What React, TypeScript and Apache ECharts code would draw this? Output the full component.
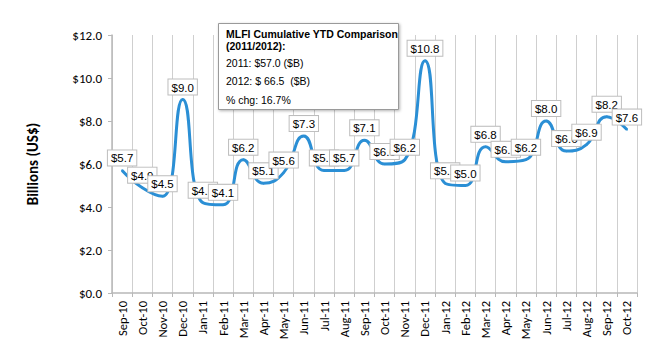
import React, { useEffect, useRef } from "react";
import * as echarts from "echarts";

const categories = [
  "Sep-10", "Oct-10", "Nov-10", "Dec-10", "Jan-11", "Feb-11", "Mar-11", "Apr-11", "May-11",
  "Jun-11", "Jul-11", "Aug-11", "Sep-11", "Oct-11", "Nov-11", "Dec-11", "Jan-12", "Feb-12",
  "Mar-12", "Apr-12", "May-12", "Jun-12", "Jul-12", "Aug-12", "Sep-12", "Oct-12",
];
const values = [
  5.7, 4.9, 4.5, 9.0, 4.2, 4.1, 6.2, 5.1, 5.6, 7.3, 5.7, 5.7, 7.1, 6.0, 6.2, 10.8, 5.1, 5.0,
  6.8, 6.1, 6.2, 8.0, 6.6, 6.9, 8.2, 7.6,
];
const infoTitle = ["MLFI Cumulative YTD Comparison", "(2011/2012):"];
const infoLines = ["2011: $57.0 ($B)", "2012: $ 66.5  ($B)", "% chg: 16.7%"];

export default function App() {
  const ref = useRef<HTMLDivElement>(null);
  useEffect(() => {
    if (!ref.current) return;
    const chart = echarts.init(ref.current, null, { renderer: "svg" });
    const axisFont = "Calibri, Carlito, 'Liberation Sans', Arial, sans-serif";
    chart.setOption({
      animation: false,
      backgroundColor: "#ffffff",
      grid: { left: 112, right: 13, top: 35, bottom: 57 },
      xAxis: {
        type: "category",
        data: categories,
        boundaryGap: true,
        axisLine: { lineStyle: { color: "#b8b8b8", width: 1.5 } },
        axisTick: { show: true, length: 4, lineStyle: { color: "#b8b8b8" } },
        axisLabel: {
          rotate: 90,
          interval: 0,
          color: "#000",
          fontSize: 12.5,
          fontFamily: axisFont,
          margin: 8,
        },
        splitLine: { show: true, lineStyle: { color: "#cfcfcf", width: 1 } },
      },
      yAxis: {
        type: "value",
        min: 0,
        max: 12,
        interval: 2,
        name: "Billions (US$)",
        nameLocation: "middle",
        nameGap: 72,
        nameTextStyle: {
          fontSize: 15,
          fontWeight: "bold",
          color: "#000",
          fontFamily: axisFont,
        },
        axisLine: { show: true, lineStyle: { color: "#b8b8b8", width: 1.5 } },
        axisTick: { show: true, length: 4, lineStyle: { color: "#b8b8b8" } },
        axisLabel: {
          formatter: (v: number) => "$" + v.toFixed(1),
          color: "#000",
          fontSize: 13,
          fontFamily: axisFont,
          margin: 10,
        },
        splitLine: { show: false },
      },
      series: [
        {
          type: "line",
          data: values,
          smooth: 0.5,
          symbol: "circle",
          symbolSize: 2,
          showSymbol: true,
          itemStyle: { color: "#2b8fd5", opacity: 1 },
          lineStyle: { color: "#2b8fd5", width: 3 },
          label: {
            show: true,
            position: "top",
            distance: 4,
            formatter: (p: any) => "$" + Number(p.value).toFixed(1),
            color: "#000",
            fontSize: 11.5,
            fontFamily: "Arial, 'Liberation Sans', sans-serif",
            backgroundColor: "#ffffff",
            borderColor: "#bdbdbd",
            borderWidth: 1,
            padding: [2, 3, 1, 3],
          },
          labelLayout: { hideOverlap: false },
        },
      ],
      graphic: [
        {
          type: "rect",
          left: 218,
          top: 23,
          shape: { width: 180, height: 86 },
          style: {
            fill: "#ffffff",
            stroke: "#9a9a9a",
            lineWidth: 1,
            shadowBlur: 3,
            shadowOffsetX: 1,
            shadowOffsetY: 1,
            shadowColor: "rgba(0,0,0,0.3)",
          },
          z: 100,
        },
        {
          type: "text",
          left: 226,
          top: 28,
          z: 101,
          style: {
            text: infoTitle.join("\n"),
            font: "bold 10.5px Arial, 'Liberation Sans', sans-serif",
            lineHeight: 12,
            fill: "#000",
          },
        },
        ...infoLines.map((t, i) => ({
          type: "text",
          left: 226,
          top: 57 + i * 18.5,
          z: 101,
          style: {
            text: t,
            font: "10.5px Arial, 'Liberation Sans', sans-serif",
            fill: "#000",
          },
        })),
      ],
    });
    return () => chart.dispose();
  }, []);
  return <div ref={ref} style={{ width: 650, height: 350, position: "absolute", left: 0, top: 0 }} />;
}
